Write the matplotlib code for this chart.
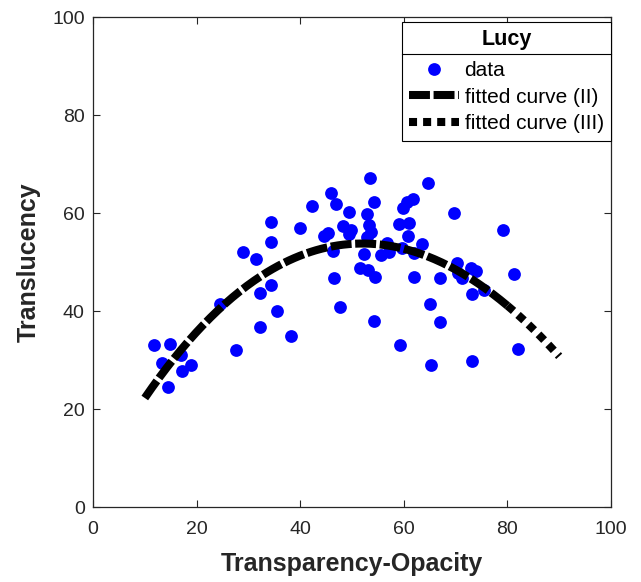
import numpy as np
import matplotlib
matplotlib.use("Agg")
import matplotlib.pyplot as plt
from matplotlib.lines import Line2D

plt.rcParams['font.family'] = ['Liberation Sans', 'DejaVu Sans']

# Measured samples: transparency-opacity score vs. translucency score
trans_opacity = [11.8, 14.9, 13.3, 16.9, 17.1, 18.9, 14.5, 24.5, 27.7, 29.0,
                 31.4, 32.2, 32.2, 34.4, 34.4, 34.3, 35.6, 38.2, 40.0, 42.3,
                 44.6, 45.4, 45.9, 46.9, 46.3, 46.6, 47.7, 48.3, 49.4, 49.8,
                 49.5, 51.5, 52.4, 52.8, 52.9, 53.2, 53.7, 53.0, 53.4, 54.3,
                 54.4, 54.3, 55.6, 56.8, 57.1, 59.3, 59.1, 59.6, 59.9, 60.6,
                 61.8, 61.1, 60.9, 62.0, 62.0, 63.6, 64.6, 65.1, 65.2, 67.0,
                 67.0, 69.7, 70.2, 70.5, 71.2, 73.0, 73.9, 73.1, 73.2, 75.5,
                 79.1, 81.3, 82.1]
translucency = [33.1, 33.2, 29.4, 31.1, 27.8, 29.0, 24.4, 41.4, 32.0, 52.0,
                50.6, 43.7, 36.8, 58.1, 54.1, 45.4, 40.1, 34.8, 56.9, 61.4,
                55.3, 55.9, 64.0, 61.9, 52.2, 46.7, 40.9, 57.4, 60.3, 56.5,
                55.7, 48.7, 51.6, 55.2, 59.7, 57.5, 56.1, 48.4, 67.2, 62.2,
                47.0, 38.0, 51.4, 53.9, 52.0, 33.1, 57.8, 52.9, 61.0, 62.2,
                62.9, 57.9, 55.4, 51.8, 47.0, 53.7, 66.1, 41.4, 29.0, 46.7,
                37.7, 60.1, 49.8, 47.7, 46.7, 48.7, 48.2, 43.5, 29.7, 44.3,
                56.5, 47.6, 32.3]

# Cubic fit in (x - 50): c0 + c1*u + c2*u^2 + c3*u^3
fit_center = 50.0
fit_coeffs = [53.7, 0.0679, -0.0170, 2.4e-5]
range_fit = (10.0, 80.0)     # fitted curve (II)
range_extra = (80.0, 90.0)   # fitted curve (III)


def fit_curve(x):
    u = x - fit_center
    return sum(c * u ** k for k, c in enumerate(fit_coeffs))


fig = plt.figure(figsize=(6.41, 5.82), dpi=100)
ax = fig.add_axes([93 / 641, 75 / 582, 518 / 641, 490 / 582])

ink = '#262626'
ax.plot(trans_opacity, translucency, 'o', color='#0000ff', markersize=9.2,
        markeredgewidth=0, label='data', zorder=2)

x2 = np.linspace(*range_fit, 200)
ax.plot(x2, fit_curve(x2), color='black', linewidth=5.8, dashes=(2.6, 0.45),
        label='fitted curve (II)', zorder=3)
x3 = np.linspace(*range_extra, 60)
ax.plot(x3, fit_curve(x3), color='black', linewidth=5.8, dashes=(1.0, 0.75),
        label='fitted curve (III)', zorder=3)

ax.set_xlim(0, 100)
ax.set_ylim(0, 100)
ax.set_xticks(np.arange(0, 101, 20))
ax.set_yticks(np.arange(0, 101, 20))
ax.tick_params(direction='in', top=True, right=True, length=5, width=0.8,
               color=ink, labelcolor=ink, labelsize=14)
ax.tick_params(axis='x', pad=10)
ax.tick_params(axis='y', pad=6)
for sp in ax.spines.values():
    sp.set_color(ink)
    sp.set_linewidth(0.9)

ax.set_xlabel('Transparency-Opacity', fontsize=18, fontweight='bold',
              color=ink, labelpad=10)
ax.set_ylabel('Translucency', fontsize=18, fontweight='bold', color=ink,
              labelpad=8)

leg = ax.legend(loc='upper right', bbox_to_anchor=(1.0, 1 - 5 / 490),
                borderaxespad=0, fancybox=False, framealpha=1,
                edgecolor='black', fontsize=15, title='Lucy',
                title_fontproperties={'weight': 'bold', 'size': 15.5},
                handlelength=2.4, handletextpad=0.25, labelspacing=0.37,
                borderpad=0.35)
leg.get_frame().set_linewidth(0.8)
# extra room under the title for the divider line
leg._legend_box.sep = 7.7

# divider between the legend title and its entries
fig.canvas.draw()
lb = leg.get_window_extent()
tb = leg.get_title().get_window_extent()
ysep = 0.5 * (tb.y0 + tb.y1) - 14.5
fig.add_artist(Line2D([lb.x0 / 641, lb.x1 / 641], [ysep / 582, ysep / 582],
                      color='black', linewidth=0.8,
                      transform=fig.transFigure))

fig.savefig('out.png', dpi=100)
